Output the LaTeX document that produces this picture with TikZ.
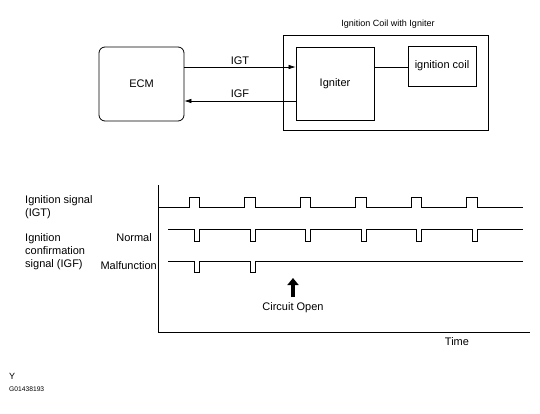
\documentclass[tikz,border=0pt]{standalone}
\usepackage{fontspec}
\setmainfont{Liberation Sans}
\usetikzlibrary{arrows.meta}
\begin{document}
\begin{tikzpicture}[x=1pt,y=-1pt,
  box/.style={draw,line width=0.8pt,inner sep=0pt},
  lbl/.style={font=\fontsize{11}{13}\selectfont,inner sep=0pt},
  sig/.style={line width=0.9pt},
  link/.style={line width=0.6pt},
  tip/.style={-{Latex[length=7pt,width=4.5pt]}}]
\useasboundingbox (0,0) rectangle (540,413);
% block diagram
\node[box,rounded corners=6pt,minimum width=85pt,minimum height=74pt] (ecm) at (141.5,84) {};
\node[lbl] at (ecm.center) {ECM};
\node[box,minimum width=205pt,minimum height=95pt] (outer) at (385.5,82.5) {};
\node[font=\fontsize{9}{11}\selectfont,inner sep=0pt,anchor=south] (title) at (388,29) {Ignition Coil with Igniter};
\node[box,minimum width=78pt,minimum height=73pt] (ign) at (335,83.5) {};
\node[lbl] at (ign.center) {Igniter};
\node[box,minimum width=68pt,minimum height=40pt] (coil) at (442,66) {};
\node[lbl] at (coil.center) {ignition coil};
\coordinate (igtA) at (ecm.east |- 0,67);
\coordinate (igtB) at (ign.west |- 0,67);
\draw[link,tip] (igtA) -- node[lbl,above=2pt] {IGT} (igtB);
\coordinate (igfA) at (ign.west |- 0,101);
\coordinate (igfB) at (ecm.east |- 0,101);
\draw[link,tip] (igfA) -- node[lbl,above=3.5pt] {IGF} (igfB);
\draw[link] (ign.east |- 0,67) -- (coil.west |- 0,67);
% time chart axes
\coordinate (ytop) at (158,185);
\coordinate (orig) at (158,332);
\coordinate (xend) at (530,332);
\draw[line width=0.9pt] (ytop) -- (orig) -- (xend);
\node[lbl,anchor=north] (time) at (457,337) {Time};
% IGT
\draw[sig] (158,207) \foreach \p in {189,244.5,300,355.5,411,466.5} { -- (\p,207) -- (\p,197) -- (\p+10.5,197) -- (\p+10.5,207) } -- (523,207);
% Normal
\draw[sig] (168,229) \foreach \p in {189,244.5,300,355.5,411,466.5} { -- (\p+5.5,229) -- (\p+5.5,241) -- (\p+10.5,241) -- (\p+10.5,229) } -- (523,229);
% Malfunction
\draw[sig] (168,261) \foreach \p in {189,244.5} { -- (\p+5.5,261) -- (\p+5.5,272) -- (\p+10.5,272) -- (\p+10.5,261) } -- (523,261);
% labels
\node[lbl,anchor=west,align=left] (igtl) at (25,207) {Ignition signal\\(IGT)};
\node[lbl,anchor=west,align=left] (igfl) at (25,252) {Ignition\\confirmation\\signal (IGF)};
\node[lbl,anchor=east] (norm) at (152,238) {Normal};
\node[lbl,anchor=east] (malf) at (157,266) {Malfunction};
% circuit open
\node[lbl,anchor=north] (co) at (293,302) {Circuit Open};
\coordinate (coB) at (293,297);
\coordinate (coT) at (293,278);
\draw[line width=3.5pt,-{Triangle[length=7pt,width=11pt]}] (coB) -- (coT);
% footer
\node[font=\fontsize{9}{11}\selectfont,inner sep=0pt,anchor=west] (y) at (9,376) {Y};
\node[font=\fontsize{6.7}{8}\selectfont,inner sep=0pt,anchor=west] (code) at (9,389) {G01438193};
\end{tikzpicture}
\end{document}
